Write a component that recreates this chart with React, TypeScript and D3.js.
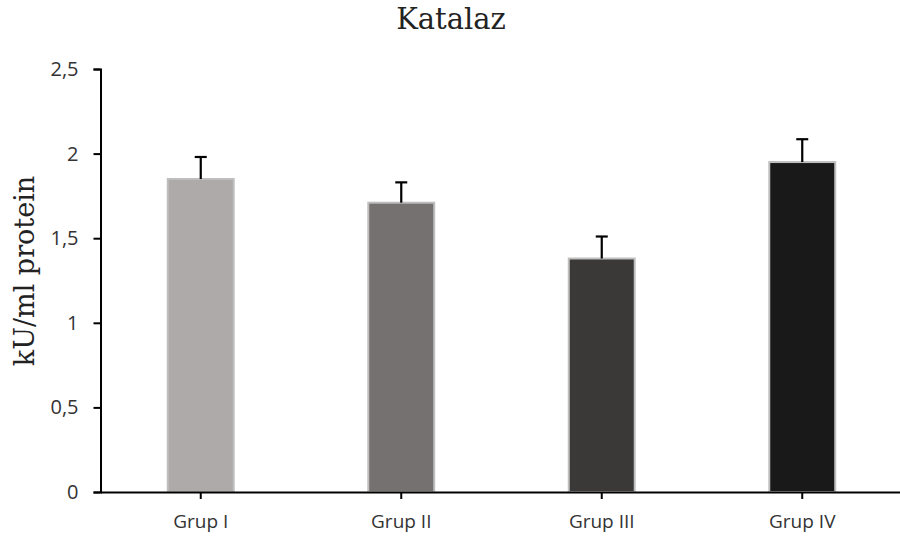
import React, { useEffect, useRef } from "react";
import * as d3 from "d3";

const width = 900;
const height = 543;
const space = {
  marginLeft: 100.5,
  marginRight: -2.5,
  marginTop: 69,
  marginBottom: 51,
};

const groups = ["Grup I", "Grup II", "Grup III", "Grup IV"];
const means = [1.85, 1.71, 1.38, 1.95];
const errors = [0.13, 0.12, 0.13, 0.135];
const fills = ["#aeaaaa", "#767171", "#3b3838", "#191919"];
const yTicks = [0, 0.5, 1, 1.5, 2, 2.5];

const App = () => {
  const ref = useRef<SVGSVGElement | null>(null);

  const chart = () => {
    const svg = d3.select(ref.current).attr("width", width).attr("height", height);
    svg.selectAll("*").remove();

    const x = d3
      .scaleBand<string>()
      .domain(groups)
      .range([space.marginLeft, width - space.marginRight])
      .paddingInner(0.671)
      .paddingOuter(0.3355);
    const y = d3.scaleLinear([0, 2.5], [height - space.marginBottom, space.marginTop]);

    const data = groups.map((g, i) => ({ g, mean: means[i], err: errors[i], fill: fills[i] }));

    // bars
    svg
      .append("g")
      .selectAll("rect")
      .data(data)
      .join("rect")
      .attr("x", (d) => x(d.g)!)
      .attr("y", (d) => y(d.mean))
      .attr("width", x.bandwidth())
      .attr("height", (d) => y(0) - y(d.mean))
      .attr("fill", (d) => d.fill)
      .attr("stroke", "#bfbfbf")
      .attr("stroke-width", 2);

    // error bars (upper only)
    const eb = svg.append("g").attr("stroke", "#000").attr("stroke-width", 2.2);
    data.forEach((d) => {
      const cx = x(d.g)! + x.bandwidth() / 2;
      eb.append("line")
        .attr("x1", cx).attr("x2", cx)
        .attr("y1", y(d.mean)).attr("y2", y(d.mean + d.err));
      eb.append("line")
        .attr("x1", cx - 6).attr("x2", cx + 6)
        .attr("y1", y(d.mean + d.err)).attr("y2", y(d.mean + d.err));
    });

    const fmt = (v: number) => String(v).replace(".", ",");

    const yAxis = d3.axisLeft(y).tickValues(yTicks).tickFormat((v) => fmt(+v)).tickSize(7).tickSizeOuter(7).tickPadding(15);
    const gy = svg.append("g").attr("transform", `translate(${space.marginLeft}, 0)`).call(yAxis);
    gy.select(".domain").attr("stroke-width", 2);
    gy.selectAll(".tick line").attr("stroke-width", 2);
    gy.selectAll("text").attr("font-family", "'Open Sans', sans-serif").attr("font-size", 20).attr("fill", "#333");

    const xAxis = d3.axisBottom(x).tickSize(7).tickSizeOuter(0).tickPadding(16);
    const gx = svg.append("g").attr("transform", `translate(0, ${height - space.marginBottom})`).call(xAxis);
    gx.select(".domain").attr("stroke-width", 2);
    gx.selectAll(".tick line").attr("stroke-width", 2);
    gx.selectAll("text").attr("font-family", "'Open Sans', sans-serif").attr("font-size", 19).attr("fill", "#333");

    svg.append("text")
      .attr("x", 451)
      .attr("y", 29)
      .attr("text-anchor", "middle")
      .attr("font-family", "'DejaVu Serif', serif")
      .attr("font-size", 29)
      .attr("fill", "#222")
      .text("Katalaz");

    svg.append("text")
      .attr("transform", `translate(34, 271) rotate(-90)`)
      .attr("text-anchor", "middle")
      .attr("font-family", "'DejaVu Serif', serif")
      .attr("font-size", 27)
      .attr("fill", "#222")
      .text("kU/ml protein");
  };

  useEffect(() => {
    chart();
  }, []);

  return (
    <div>
      <svg ref={ref} style={{ position: "absolute", left: 0, top: 0, background: "#fff" }} />
    </div>
  );
};

export default App;
